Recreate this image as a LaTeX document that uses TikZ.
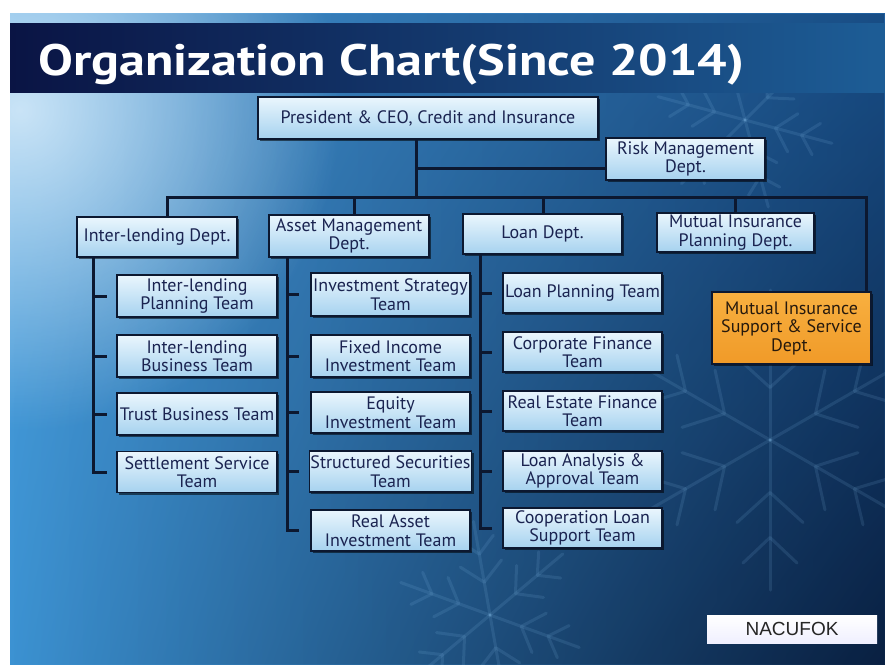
\documentclass[tikz,border=0pt]{standalone}
\usepackage{fontspec}
\setmainfont{PT Sans}
\newfontfamily\arialfont{Liberation Sans}
\usetikzlibrary{shadows,fadings,calc,shadings}
\definecolor{bgUL}{HTML}{4A9EDC}
\definecolor{bgLL}{HTML}{3C92D2}
\definecolor{bgUR}{HTML}{1E5E9E}
\definecolor{bgLR}{HTML}{0A2244}
\definecolor{navy}{HTML}{071A3A}
\definecolor{glowc}{HTML}{D8ECFA}
\definecolor{bandL}{HTML}{0A1444}
\definecolor{bandM}{HTML}{0F2A62}
\definecolor{bandR}{HTML}{1D5D96}
\definecolor{linec}{HTML}{0C1830}
\definecolor{boxtop}{HTML}{EAF6FD}
\definecolor{boxbot}{HTML}{A6D2EF}
\definecolor{boxtext}{HTML}{1A2350}
\definecolor{orangetop}{HTML}{F8B040}
\definecolor{orangebot}{HTML}{F09A28}
\definecolor{flakec}{HTML}{8CC4F0}
\tikzfading[name=glowfade, inner color=transparent!0, outer color=transparent!100]
\tikzset{
  orgbox/.style={draw=linec, line width=1.6pt, top color=boxtop, bottom color=boxbot,
    text=boxtext, align=center, inner sep=1pt,
    font=\fontsize{18}{18.5}\selectfont,
    drop shadow={shadow xshift=2pt, shadow yshift=-2pt, opacity=0.55, fill=black}},
  orangebox/.style={orgbox, top color=orangetop, bottom color=orangebot, text=black!80!brown},
  conn/.style={draw=linec, line width=3pt, line join=miter},
  snowflk/.pic={
    \foreach \a in {0,60,...,300}{
      \begin{scope}[rotate=\a]
        \draw (0,0) -- (0,1);
        \draw (0,0.35) -- (0.22,0.55) (0,0.35) -- (-0.22,0.55);
        \draw (0,0.65) -- (0.18,0.82) (0,0.65) -- (-0.18,0.82);
      \end{scope}}
  },
  flakestyle/.style={draw=flakec, opacity=0.13, line width=3pt, line cap=round},
}
\begin{document}
\begin{tikzpicture}[x=1pt,y=-1pt]
\useasboundingbox (0,0) rectangle (885,664);
\fill[white] (0,0) rectangle (885,664);
% slide background
\shade[upper left=bgUL, upper right=bgUR, lower left=bgLL, lower right=bgLR] (10,13) rectangle (885,664);
\fill[navy, opacity=0.25, path fading=west] (10,13) rectangle (885,664);
\begin{scope}
\clip (10,13) rectangle (885,664);
\fill[glowc, opacity=0.9, path fading=glowfade] (20,110) circle (320);
% faint snowflakes
\pic[flakestyle, scale=150] at (770,440) {snowflk};
\pic[flakestyle, scale=90, rotate=15] at (745,120) {snowflk};
\pic[flakestyle, scale=95, rotate=10] at (490,615) {snowflk};
\end{scope}
% title band
\shade[left color=bandL, middle color=bandM, right color=bandR] (10,23) rectangle (885,92);
\node[anchor=base west, text=white, inner sep=0pt, font=\fontsize{44}{48}\selectfont\bfseries] (title) at (38,75) {\scalebox{1.185}[1]{Organization Chart(Since 2014)}};

% junction coordinates
\coordinate (j1) at (416,168);
\coordinate (j2) at (416,197);
\coordinate (busL) at (167,197);
\coordinate (busB) at (354,197);
\coordinate (busC) at (543,197);
\coordinate (busD) at (735,197);
\coordinate (busR) at (866,197);
\coordinate (vA) at (93,0);
\coordinate (vB) at (287,0);
\coordinate (vC) at (480,0);

% department nodes
\node[orgbox, minimum width=340, minimum height=42] (pres) at (428,118) {President \& CEO, Credit and Insurance};
\node[orgbox, minimum width=159, minimum height=42] (risk) at (685.5,159) {Risk Management\\Dept.};
\node[orgbox, minimum width=160, minimum height=40] (inter) at (157,237) {Inter-lending Dept.};
\node[orgbox, minimum width=160, minimum height=42] (asset) at (349,236) {Asset Management\\Dept.};
\node[orgbox, minimum width=159, minimum height=40] (loan) at (542.5,234) {Loan Dept.};
\node[orgbox, minimum width=157, minimum height=39] (mip) at (735.5,232.5) {Mutual Insurance\\Planning Dept.};
\node[orangebox, minimum width=159, minimum height=72] (mis) at (791.5,328) {Mutual Insurance\\Support \& Service\\Dept.};

% column A
\node[orgbox, minimum width=160, minimum height=42] (a1) at (197,296) {Inter-lending\\Planning Team};
\node[orgbox, minimum width=160, minimum height=42] (a2) at (197,356) {Inter-lending\\Business Team};
\node[orgbox, minimum width=160, minimum height=42] (a3) at (197,414) {Trust Business Team};
\node[orgbox, minimum width=160, minimum height=41] (a4) at (197,472) {Settlement Service\\Team};
% column B
\node[orgbox, minimum width=159, minimum height=43] (b1) at (390.5,294.5) {Investment Strategy\\Team};
\node[orgbox, minimum width=159, minimum height=42] (b2) at (390.5,356) {Fixed Income\\Investment Team};
\node[orgbox, minimum width=159, minimum height=41] (b3) at (390.5,412.5) {Equity\\Investment Team};
\node[orgbox, minimum width=159, minimum height=41] (b4) at (390.5,471.5) {Structured Securities\\Team};
\node[orgbox, minimum width=159, minimum height=41] (b5) at (390.5,530.5) {Real Asset\\Investment Team};
% column C
\node[orgbox, minimum width=159, minimum height=40] (c1) at (582.5,293) {Loan Planning Team};
\node[orgbox, minimum width=159, minimum height=40] (c2) at (582.5,352) {Corporate Finance\\Team};
\node[orgbox, minimum width=159, minimum height=40] (c3) at (582.5,411) {Real Estate Finance\\Team};
\node[orgbox, minimum width=159, minimum height=40] (c4) at (582.5,471) {Loan Analysis \&\\Approval Team};
\node[orgbox, minimum width=159, minimum height=40] (c5) at (582.5,528) {Cooperation Loan\\Support Team};

% NACUFOK label
\node[draw=none, top color=white, bottom color=blue!6!white, minimum width=170, minimum height=28, inner sep=0pt,
  font=\arialfont\fontsize{19}{21}\selectfont, text=black!85] (nac) at (792,629) {NACUFOK};

% connectors
\draw[conn] (pres.south -| j1) -- (j2);
\draw[conn] (j1) -- (j1 -| risk.west);
\draw[conn] (busL |- inter.north) -- (busL) -- (busR) -- (busR |- mis.north);
\draw[conn] (busB) -- (busB |- asset.north);
\draw[conn] (busC) -- (busC |- loan.north);
\draw[conn] (busD) -- (busD |- mip.north);
% column A
\draw[conn] (vA |- inter.south) -- (vA |- a4.west) -- ++(14,0);
\foreach \t in {a1,a2,a3} \draw[conn] (vA |- \t.west) -- ++(14,0);
% column B
\draw[conn] (vB |- asset.south) -- (vB |- b5.west) -- ++(12,0);
\foreach \t in {b1,b2,b3,b4} \draw[conn] (vB |- \t.west) -- ++(12,0);
% column C
\draw[conn] (vC |- loan.south) -- (vC |- c5.west) -- ++(12,0);
\foreach \t in {c1,c2,c3,c4} \draw[conn] (vC |- \t.west) -- ++(12,0);
\end{tikzpicture}
\end{document}
